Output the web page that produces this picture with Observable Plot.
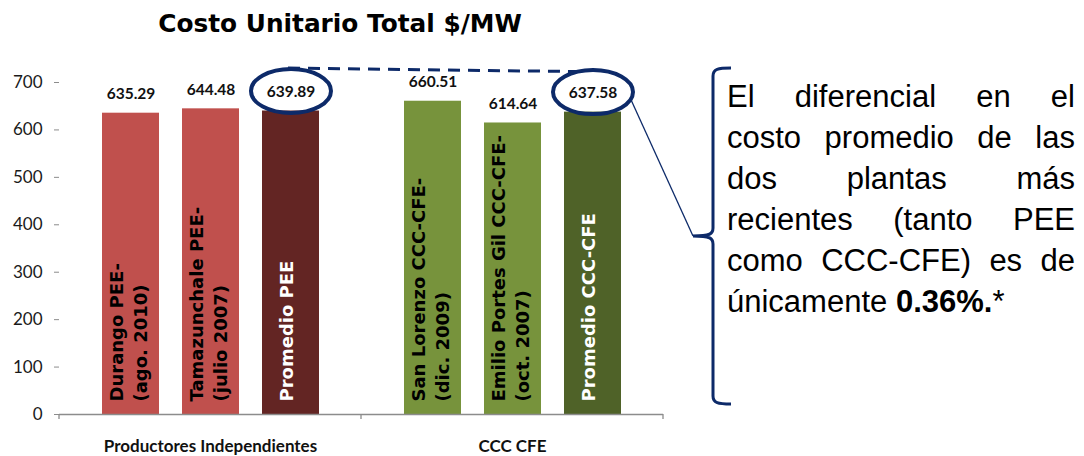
<!DOCTYPE html>
<html>
<head>
<meta charset="utf-8">
<script src="https://cdn.jsdelivr.net/npm/d3@7"></script>
<script src="https://cdn.jsdelivr.net/npm/@observablehq/plot@0.6"></script>
<style>
  html, body { margin: 0; padding: 0; background: #fff; }
  #wrap { position: relative; width: 1084px; height: 456px; overflow: hidden; background: #fff; }
  #wrap svg { position: absolute; left: 0; top: 0; }
  #title { position: absolute; left: 0; top: 10px; width: 680px; text-align: center;
    font-family: "DejaVu Sans", sans-serif; font-weight: bold; font-size: 24.8px; line-height: 28px; color: #000; }
  #note { position: absolute; left: 727px; top: 76px; width: 348px;
    font-family: "Liberation Sans", Arial, sans-serif; font-size: 31px; line-height: 41px; color: #000; }
  #note .j { text-align: justify; text-align-last: justify; }
  #note .l { text-align: left; }
  g[aria-label="y-axis tick label"] { fill: #1a1a1a; }
</style>
</head>
<body>
<div id="wrap">
  <div id="title">Costo Unitario Total $/MW</div>
  <div id="note">
    <div class="j">El diferencial en el</div>
    <div class="j">costo promedio de las</div>
    <div class="j">dos plantas más</div>
    <div class="j">recientes (tanto PEE</div>
    <div class="j">como CCC-CFE) es de</div>
    <div class="l">únicamente <b>0.36%.</b>*</div>
  </div>
</div>
<script>
// ---- data ----
const groupNames = ["Productores Independientes", "CCC CFE"];
const plantGroups = ["Productores Independientes", "Productores Independientes", "Productores Independientes",
                     "CCC CFE", "CCC CFE", "CCC CFE"];
const plantLabels = ["Durango PEE-\n(ago. 2010)", "Tamazunchale PEE-\n(julio 2007)", "Promedio PEE",
                     "San Lorenzo CCC-CFE-\n(dic. 2009)", "Emilio Portes Gil CCC-CFE-\n(oct. 2007)", "Promedio CCC-CFE"];
const costValues = [635.29, 644.48, 639.89, 660.51, 614.64, 637.58];
const yTicks = [0, 100, 200, 300, 400, 500, 600, 700];
const circledPlants = ["Promedio PEE", "Promedio CCC-CFE"];

// ---- styles ----
const barColors = ["#C0504D", "#C0504D", "#632523", "#77933C", "#77933C", "#4F6228"];
const labelColors = ["#000", "#000", "#fff", "#000", "#000", "#fff"];
const navy = "#0d2a69";

const rows = costValues.map((v, i) => ({
  group: plantGroups[i],
  slot: plantGroups.slice(0, i).filter(g => g === plantGroups[i]).length,
  label: plantLabels[i],
  value: v,
  color: barColors[i],
  textColor: labelColors[i]
}));
const twoLine = rows.filter(d => d.label.includes("\n"));
const oneLine = rows.filter(d => !d.label.includes("\n"));

const RX = 40, RY = 22, K = 0.5523;
const ellipseSymbol = {
  draw(ctx) {
    ctx.moveTo(RX, 0);
    ctx.bezierCurveTo(RX, K * RY, K * RX, RY, 0, RY);
    ctx.bezierCurveTo(-K * RX, RY, -RX, K * RY, -RX, 0);
    ctx.bezierCurveTo(-RX, -K * RY, -K * RX, -RY, 0, -RY);
    ctx.bezierCurveTo(K * RX, -RY, RX, -K * RY, RX, 0);
    ctx.closePath();
  }
};

const labelStyle = { rotate: -90, textAnchor: "start", dy: -13, lineHeight: 1.33, fontFamily: "DejaVu Sans",
                     fontWeight: "bold", fontSize: 18, fill: "textColor", frameAnchor: "bottom" };

const chart = Plot.plot({
  width: 1084,
  height: 456,
  marginLeft: 58,
  marginRight: 421,
  marginTop: 82,
  marginBottom: 42,
  style: { fontFamily: "Lato, 'Open Sans', sans-serif", fontSize: "17px", color: "#111", background: "transparent" },
  fx: { domain: groupNames, padding: 0, axis: null, label: null },
  x: { type: "band", domain: [0, 1, 2], paddingInner: 0.2875, paddingOuter: 0.53, axis: null },
  y: { domain: [0, 700], axis: null },
  color: { type: "identity" },
  marks: [
    Plot.barY(rows, { fx: "group", x: "slot", y: "value", fill: "color" }),
    Plot.ruleY([0], { stroke: "#8c8c8c", strokeWidth: 1.3 }),
    Plot.axisY({ ticks: yTicks, tickSize: 5, tickPadding: 12, line: true, stroke: "#8c8c8c",
                 fontSize: 17, label: null, tickFormat: d => String(d) }),
    Plot.axisFx({ anchor: "bottom", tickSize: 0, tickPadding: 25, label: null, fontSize: 17, fontWeight: "bold" }),
    Plot.text(twoLine, { fx: "group", x: "slot", text: "label", dx: 16, ...labelStyle }),
    Plot.text(oneLine, { fx: "group", x: "slot", text: "label", dx: 2, ...labelStyle }),
    Plot.text(rows, { fx: "group", x: "slot", y: "value", text: d => d.value.toFixed(2), dy: -19,
                      fontWeight: "bold", fontSize: 15.5, fill: "#111" }),
    Plot.dot(rows.filter(d => circledPlants.includes(d.label)),
             { fx: "group", x: "slot", y: "value", dy: -20, symbol: ellipseSymbol, r: 10,
               fill: "none", stroke: navy, strokeWidth: 4, ariaLabel: "ellipse" })
  ]
});

const wrap = document.getElementById("wrap");
wrap.insertBefore(chart, wrap.firstChild);

// bold category (group) labels
chart.querySelectorAll("text").forEach(t => {
  if (groupNames.includes(t.textContent)) {
    t.setAttribute("font-weight", "bold");
    t.style.fontWeight = "bold";
    t.setAttribute("fill", "#111");
  }
});

// ---- overlay annotations using rendered positions & scales ----
const svg = d3.select(chart);
const sRect = chart.getBoundingClientRect();
let paths = Array.from(chart.querySelectorAll('g[aria-label="ellipse"] path'));
if (!paths.length) paths = Array.from(chart.querySelectorAll('g[aria-label="dot"] path'));
const centers = paths.map(p => {
  const r = p.getBoundingClientRect();
  return { cx: r.x + r.width / 2 - sRect.x, cy: r.y + r.height / 2 - sRect.y, rx: r.width / 2, ry: r.height / 2 };
}).sort((a, b) => a.cx - b.cx);

// group divider ticks on the category axis
let edges, y0;
try {
  const fx = chart.scale("fx"), ys = chart.scale("y");
  edges = [fx.apply(groupNames[0]), fx.apply(groupNames[1]), fx.apply(groupNames[1]) + fx.bandwidth];
  y0 = ys.apply(0);
} catch (e) {
  edges = [58, 360.5, 663];
  y0 = 414;
}
edges.forEach(x => {
  svg.append("line").attr("x1", x).attr("x2", x).attr("y1", y0).attr("y2", y0 + 5)
    .attr("stroke", "#8c8c8c").attr("stroke-width", 1.3);
});

if (centers.length === 2) {
  const [L, R] = centers;
  svg.append("line")
    .attr("x1", L.cx - 3).attr("y1", L.cy - L.ry - 1)
    .attr("x2", R.cx - 14).attr("y2", R.cy - R.ry + 1.5)
    .attr("stroke", navy).attr("stroke-width", 3).attr("stroke-dasharray", "12,8");
  svg.append("line")
    .attr("x1", R.cx + R.rx * 0.93).attr("y1", R.cy + 6)
    .attr("x2", 693).attr("y2", 236)
    .attr("stroke", navy).attr("stroke-width", 1.3);
}
svg.append("path")
  .attr("d", "M731,68 C718,68 713,69 713,76 L713,228 C713,234 710,236 693,236 C710,236 713,238 713,244 L713,396 C713,403 718,404 731,404")
  .attr("fill", "none").attr("stroke", navy).attr("stroke-width", 3);
</script>
</body>
</html>
